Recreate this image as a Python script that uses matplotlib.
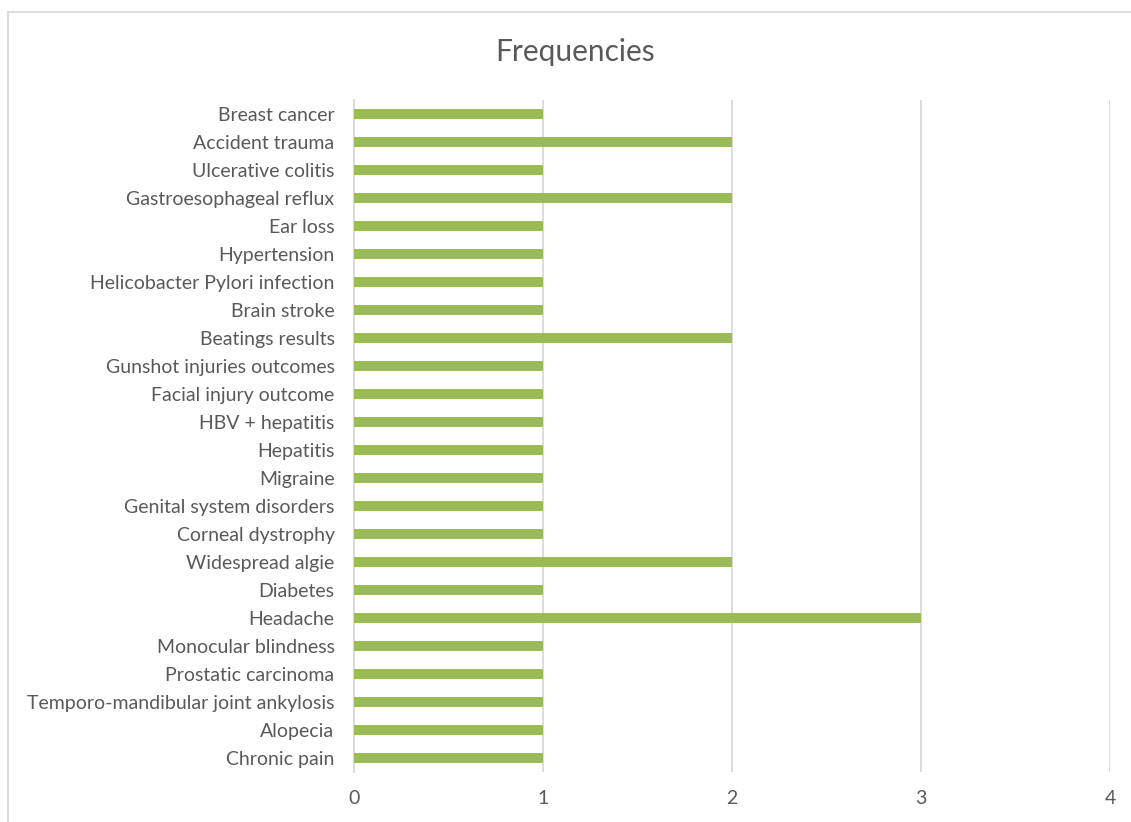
import matplotlib.pyplot as plt
from matplotlib.lines import Line2D

conditions = [
    "Breast cancer", "Accident trauma", "Ulcerative colitis", "Gastroesophageal reflux",
    "Ear loss", "Hypertension", "Helicobacter Pylori infection", "Brain stroke",
    "Beatings results", "Gunshot injuries outcomes", "Facial injury outcome",
    "HBV + hepatitis", "Hepatitis", "Migraine", "Genital system disorders",
    "Corneal dystrophy", "Widespread algie", "Diabetes", "Headache",
    "Monocular blindness", "Prostatic carcinoma", "Temporo-mandibular joint ankylosis",
    "Alopecia", "Chronic pain",
]
frequencies = [1, 2, 1, 2, 1, 1, 1, 1, 2, 1, 1, 1, 1, 1, 1, 1, 2, 1, 3, 1, 1, 1, 1, 1]
x_ticks = [0, 1, 2, 3, 4]

text_color = "#595959"
bar_color = "#9BBB59"
grid_color = "#D9D9D9"

plt.rcParams['font.family'] = ['Lato', 'DejaVu Sans']

fig = plt.figure(figsize=(11.31, 8.22), dpi=100)
ax = fig.add_axes([0.313, 0.0608, 0.6684, 0.8175])

# bottom-to-top ordering so the first item sits at the top
ypos = list(range(len(conditions)))[::-1]
ax.barh(ypos, frequencies, height=0.36, color=bar_color, zorder=3)

ax.set_xlim(0, 4)
ax.set_ylim(-0.5, len(conditions) - 0.5)
ax.set_xticks(x_ticks)
ax.set_yticks(ypos)
ax.set_yticklabels(conditions)
ax.tick_params(axis='both', length=0, labelsize=14, labelcolor=text_color)
ax.tick_params(axis='x', pad=13)
ax.tick_params(axis='y', pad=14)

ax.grid(axis='x', color=grid_color, linewidth=1.3, zorder=0)
for side in ['top', 'right', 'bottom']:
    ax.spines[side].set_visible(False)
ax.spines['left'].set_color(grid_color)
ax.spines['left'].set_linewidth(1.3)

fig.text(575 / 1131, 1 - 52 / 822, "Frequencies", ha='center', va='center',
         fontsize=21.5, color=text_color)

# chart frame (runs off the right and bottom edges)
fig.add_artist(Line2D([7.5 / 1131, 7.5 / 1131], [0, 1 - 12.5 / 822],
                      transform=fig.transFigure, color=grid_color, linewidth=1.3))
fig.add_artist(Line2D([7.5 / 1131, 1], [1 - 12.5 / 822, 1 - 12.5 / 822],
                      transform=fig.transFigure, color=grid_color, linewidth=1.3))

fig.savefig("out.png", dpi=100)
